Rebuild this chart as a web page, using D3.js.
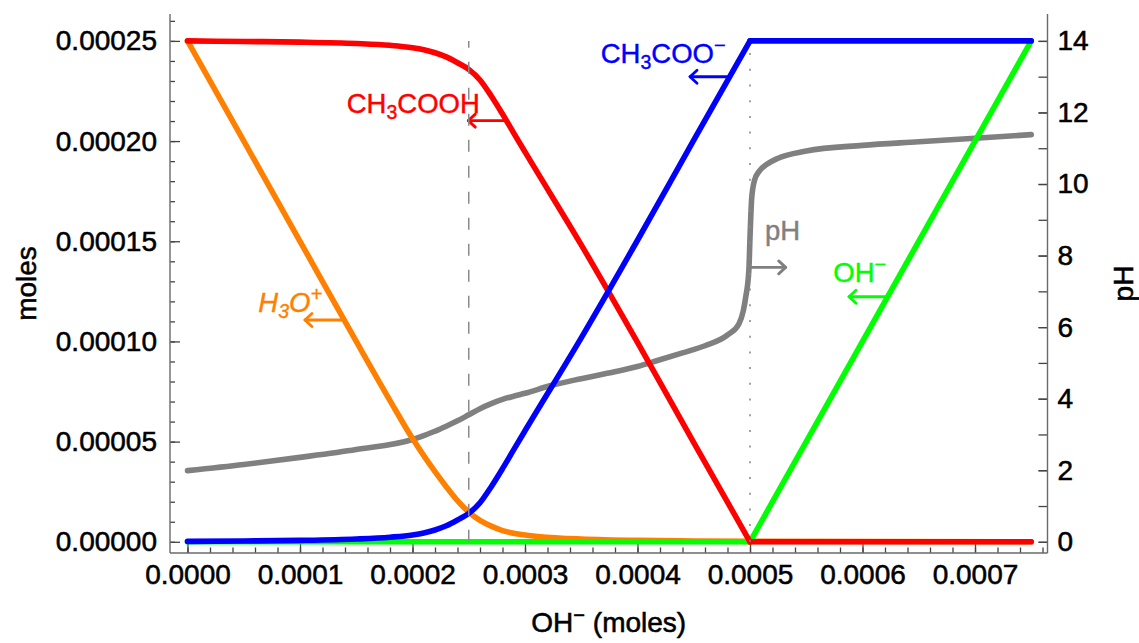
<!DOCTYPE html>
<html>
<head>
<meta charset="utf-8">
<script src="https://cdn.jsdelivr.net/npm/d3@7"></script>
<style>
  html, body { margin: 0; padding: 0; background: #fff; }
  svg { display: block; font-family: "Liberation Sans", Arial, sans-serif; }
</style>
</head>
<body>
<svg id="chart" width="1139" height="643"></svg>
<script>
// ---------------- DATA ----------------
// x = OH- added (moles)
const hxX = [0, 0.00005, 0.0001, 0.00015, 0.00018, 0.0002, 0.00021, 0.00022, 0.00023, 0.00024, 0.00025,
             0.00026, 0.00027, 0.00028, 0.00029, 0.0003, 0.00035, 0.0004, 0.00045, 0.0005, 0.00075];
const hAcetic = [0.00025, 0.0002497, 0.0002494, 0.0002487, 0.0002478, 0.0002466, 0.0002456, 0.0002441, 0.000242, 0.0002391, 0.0002358,
                 0.0002305, 0.0002225, 0.0002135, 0.000204, 0.0001946, 0.0001482, 0.0000995, 0.0000495, 0, 0];
const acetate = [0.0000002, 0.0000004, 0.0000007, 0.0000014, 0.0000023, 0.0000034, 0.0000044, 0.0000059, 0.000008, 0.0000109, 0.0000142,
                 0.0000195, 0.0000275, 0.0000365, 0.000046, 0.0000554, 0.0001018, 0.0001505, 0.0002005, 0.00025, 0.00025];

const h3oX = [0, 0.0001, 0.00015, 0.00018, 0.0002, 0.00021, 0.00022, 0.00023, 0.00024, 0.00025, 0.00026,
              0.00027, 0.00028, 0.0003, 0.00033, 0.00035, 0.0004, 0.00045, 0.0005, 0.00075];
const h3o = [0.00025, 0.00015, 0.0001, 0.0000705, 0.0000515, 0.000043, 0.000035, 0.0000275, 0.0000205, 0.0000148, 0.0000107,
             0.0000078, 0.0000056, 0.0000034, 0.0000019, 0.0000014, 0.0000007, 0.0000004, 0.0000002, 0];

const ohX = [0, 0.0005, 0.00075];
const oh = [0, 0, 0.00025];

const phX = [0, 0.00005, 0.0001, 0.00015, 0.0002, 0.00021, 0.00022, 0.00023, 0.00024, 0.00025, 0.00026, 0.00027,
             0.00028, 0.00029, 0.0003, 0.000322, 0.00035, 0.000373, 0.0004, 0.000417, 0.00044, 0.00046, 0.00048,
             0.00049, 0.000494, 0.000496, 0.000499, 0.0005, 0.0005015, 0.000504, 0.000508, 0.000515, 0.000525,
             0.00055, 0.0006, 0.00065, 0.0007, 0.00075];
const ph = [1.99, 2.16, 2.36, 2.58, 2.86, 2.97, 3.09, 3.23, 3.38, 3.55, 3.72, 3.86,
            3.98, 4.07, 4.15, 4.36, 4.56, 4.71, 4.9, 5.06, 5.28, 5.48, 5.78,
            6.08, 6.45, 6.8, 7.6, 8.5, 9.6, 10.1, 10.35, 10.55, 10.72,
            10.92, 11.08, 11.18, 11.28, 11.38];

// marker lines (half-equivalence and equivalence)
const halfEq = 0.00025;
const equiv = 0.0005;

// ticks
const xMajorTicks = [0, 0.0001, 0.0002, 0.0003, 0.0004, 0.0005, 0.0006, 0.0007];
const xTickLabels = ["0.0000", "0.0001", "0.0002", "0.0003", "0.0004", "0.0005", "0.0006", "0.0007"];
const yMajorTicks = [0, 0.00005, 0.0001, 0.00015, 0.0002, 0.00025];
const yTickLabels = ["0.00000", "0.00005", "0.00010", "0.00015", "0.00020", "0.00025"];
const phMajorTicks = [0, 2, 4, 6, 8, 10, 12, 14];
const phTickLabels = ["0", "2", "4", "6", "8", "10", "12", "14"];
const xMinorTicks = d3.range(0, 39).map(i => i * 0.00002);
const yMinorTicks = d3.range(0, 27).map(i => i * 0.00001);
const phMinorTicks = d3.range(0, 15);

// label annotations (data coordinates)
const labels = [
  { axis: "L", color: "#ff0000", x: 0.0001415, y: 0.0002142, parts: [["CH"], ["3", "sub"], ["COOH"]],
    arrow: { x1: 0.0002835, x2: 0.0002496, y: 0.0002102 } },
  { axis: "L", color: "#0000ff", x: 0.0003673, y: 0.0002388, parts: [["CH"], ["3", "sub"], ["COO"], ["\u2212", "sup"]],
    arrow: { x1: 0.00048, x2: 0.0004467, y: 0.0002321 } },
  { axis: "L", color: "#ff8000", x: 0.0000629, y: 0.0001148, italic: true, parts: [["H"], ["3", "sub"], ["O"], ["+", "sup"]],
    arrow: { x1: 0.000139, x2: 0.0001044, y: 0.0001107 } },
  { axis: "R", color: "#808080", x: 0.0005133, y: 8.43, parts: [["pH"]],
    arrow: { x1: 0.0005005, x2: 0.0005317, y: 7.67 } },
  { axis: "L", color: "#00ff00", x: 0.000574, y: 0.0001298, parts: [["OH"], ["\u2212", "sup"]],
    arrow: { x1: 0.0006223, x2: 0.000588, y: 0.0001223 } }
];

// ---------------- LAYOUT ----------------
const svg = d3.select("#chart");
const frame = { left: 170, right: 1047.5, top: 14, bottom: 553 };

const x = d3.scaleLinear().domain([0, 0.00075]).range([187.5, 1031.25]);
const yL = d3.scaleLinear().domain([0, 0.00025]).range([541.8, 40.9]);
const yR = d3.scaleLinear().domain([0, 14]).range([541.8, 40.9]);

const FS = 28;
const TXT_STROKE = 0.55;

// ---------------- AXES ----------------
function styleAxis(g) {
  g.select(".domain").remove();
  g.selectAll(".tick line").attr("stroke", "#444").attr("stroke-width", 1.3);
  g.selectAll(".tick text").attr("fill", "#000").attr("font-size", FS)
    .attr("stroke", "#000").attr("stroke-width", TXT_STROKE)
    .attr("font-family", "'Liberation Sans', Arial, sans-serif");
}

// left
svg.append("g").attr("transform", `translate(${frame.left},0)`)
  .call(d3.axisLeft(yL).tickValues(yMinorTicks).tickSizeInner(-5).tickSizeOuter(0).tickFormat(""))
  .call(styleAxis);
svg.append("g").attr("transform", `translate(${frame.left},0)`)
  .call(d3.axisLeft(yL).tickValues(yMajorTicks).tickSizeInner(-10).tickSizeOuter(0).tickPadding(13)
    .tickFormat((d, i) => yTickLabels[i]))
  .call(styleAxis);

// bottom
svg.append("g").attr("transform", `translate(0,${frame.bottom})`)
  .call(d3.axisBottom(x).tickValues(xMinorTicks).tickSizeInner(-5.5).tickSizeOuter(0).tickFormat(""))
  .call(styleAxis);
svg.append("g").attr("transform", `translate(0,${frame.bottom})`)
  .call(d3.axisBottom(x).tickValues(xMajorTicks).tickSizeInner(-9.5).tickSizeOuter(0).tickPadding(11)
    .tickFormat((d, i) => xTickLabels[i]))
  .call(styleAxis);

// right
svg.append("g").attr("transform", `translate(${frame.right},0)`)
  .call(d3.axisRight(yR).tickValues(phMinorTicks).tickSizeInner(-9).tickSizeOuter(0).tickFormat(""))
  .call(styleAxis);
svg.append("g").attr("transform", `translate(${frame.right},0)`)
  .call(d3.axisRight(yR).tickValues(phMajorTicks).tickSizeInner(-9).tickSizeOuter(0).tickPadding(10)
    .tickFormat((d, i) => phTickLabels[i]))
  .call(styleAxis);

// frame lines
const fr = svg.append("g").attr("stroke", "#6a6a6a").attr("stroke-width", 1.4).attr("fill", "none");
fr.append("line").attr("x1", frame.left).attr("x2", frame.left).attr("y1", frame.top).attr("y2", frame.bottom);
fr.append("line").attr("x1", frame.right).attr("x2", frame.right).attr("y1", frame.top).attr("y2", frame.bottom);
fr.append("line").attr("x1", frame.left).attr("x2", frame.right).attr("y1", frame.bottom).attr("y2", frame.bottom);

// axis titles
svg.append("text").attr("transform", `translate(36,${(frame.top + frame.bottom) / 2}) rotate(-90)`)
  .attr("text-anchor", "middle").attr("font-size", FS).attr("fill", "#000")
  .attr("stroke", "#000").attr("stroke-width", TXT_STROKE).text("moles");
svg.append("text").attr("transform", `translate(1133,${(frame.top + frame.bottom) / 2}) rotate(-90)`)
  .attr("text-anchor", "middle").attr("font-size", FS).attr("fill", "#000")
  .attr("stroke", "#000").attr("stroke-width", TXT_STROKE).text("pH");
const xt = svg.append("text").attr("x", (frame.left + frame.right) / 2).attr("y", 632)
  .attr("text-anchor", "middle").attr("font-size", FS).attr("fill", "#000")
  .attr("stroke", "#000").attr("stroke-width", TXT_STROKE);
xt.append("tspan").text("OH");
xt.append("tspan").attr("font-size", 20).attr("dy", -10).text("\u2212");
xt.append("tspan").attr("dy", 10).text(" (moles)");

// ---------------- CURVES ----------------
const plot = svg.append("g").attr("fill", "none").attr("stroke-linejoin", "round").attr("stroke-linecap", "round");

// draws a series; points with x <= splitAt use a smooth monotone curve, the rest straight segments
function series(xs, ys, yScale, color, splitAt) {
  const pts = xs.map((v, i) => [v, ys[i]]);
  const smooth = pts.filter(d => d[0] <= splitAt);
  const straight = pts.filter(d => d[0] >= splitAt);
  const g = plot.append("g").attr("stroke", color).attr("stroke-width", 5.6);
  if (smooth.length > 1)
    g.append("path").datum(smooth)
      .attr("d", d3.line().x(d => x(d[0])).y(d => yScale(d[1])).curve(d3.curveMonotoneX));
  if (straight.length > 1)
    g.append("path").datum(straight)
      .attr("d", d3.line().x(d => x(d[0])).y(d => yScale(d[1])).curve(d3.curveLinear));
}

series(phX, ph, yR, "#808080", 1);
series(h3oX, h3o, yL, "#ff8000", 1);
series(ohX, oh, yL, "#00ff00", 0.0005);
series(hxX, hAcetic, yL, "#ff0000", 0.0005);
series(hxX, acetate, yL, "#0000ff", 0.0005);

// ---------------- LABELS ----------------
labels.forEach(l => {
  const ys = l.axis === "R" ? yR : yL;
  const t = svg.append("text").attr("x", x(l.x)).attr("y", ys(l.y))
    .attr("font-size", 27.5).attr("fill", l.color)
    .attr("stroke", l.color).attr("stroke-width", 0.4)
    .attr("font-style", l.italic ? "italic" : "normal");
  let cur = 0;
  l.parts.forEach(p => {
    const ts = t.append("tspan").text(p[0]);
    let target = 0;
    if (p[1] === "sub") { ts.attr("font-size", 19.5); target = 6; }
    else if (p[1] === "sup") { ts.attr("font-size", 20); target = -11; }
    if (target - cur !== 0) ts.attr("dy", target - cur);
    cur = target;
  });
  const a = l.arrow;
  const g = svg.append("g").attr("stroke", l.color).attr("stroke-width", 2.8).attr("fill", "none")
    .attr("stroke-linecap", "round").attr("stroke-linejoin", "round");
  const px1 = x(a.x1), px2 = x(a.x2), py = ys(a.y);
  const dir = Math.sign(px2 - px1);
  g.append("line").attr("x1", px1).attr("x2", px2).attr("y1", py).attr("y2", py);
  g.append("path").attr("d", `M${px2 - dir * 7},${py - 6.5} L${px2},${py} L${px2 - dir * 7},${py + 6.5}`);
});

// ---------------- MARKER LINES ----------------
svg.append("line")
  .attr("x1", x(halfEq)).attr("x2", x(halfEq)).attr("y1", yL(0)).attr("y2", yL(0.00025))
  .attr("stroke", "#8a8a8a").attr("stroke-width", 1.5).attr("stroke-dasharray", "12,14");
svg.append("line")
  .attr("x1", x(equiv)).attr("x2", x(equiv)).attr("y1", yL(0)).attr("y2", yL(0.00025))
  .attr("stroke", "#8a8a8a").attr("stroke-width", 1.6).attr("stroke-dasharray", "2,13.7");
</script>
</body>
</html>
